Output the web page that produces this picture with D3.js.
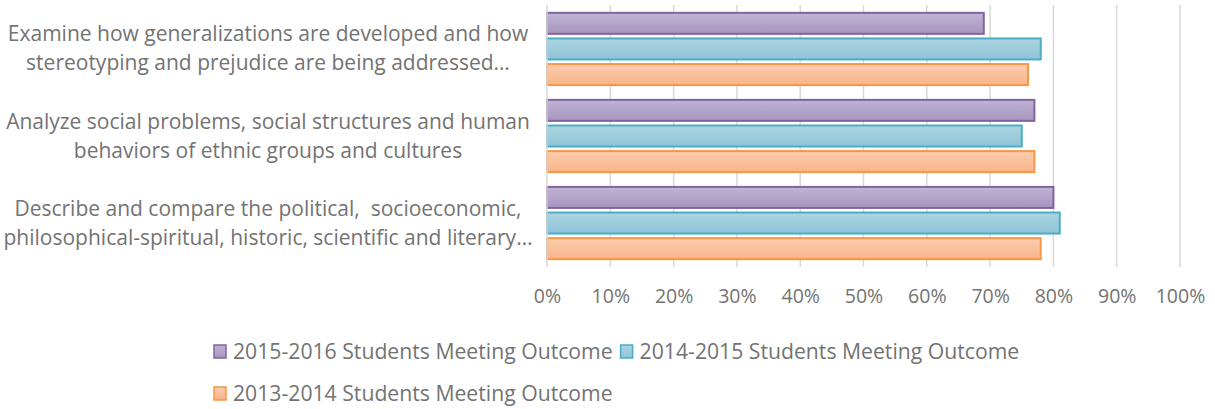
<!DOCTYPE html>
<html>
<head>
<meta charset="utf-8">
<script src="https://d3js.org/d3.v7.min.js"></script>
<style>
  body { margin: 0; background: #fff; }
  text { font-family: "Open Sans", sans-serif; fill: #737373; }
</style>
</head>
<body>
<div id="chart"></div>
<script>
var width = 1215,
    height = 409;

// outcomes, top to bottom
var categories = [
    ["Examine how generalizations are developed and how", "stereotyping and prejudice are being addressed\u2026"],
    ["Analyze social problems, social structures and human", "behaviors of ethnic groups and cultures"],
    ["Describe and compare the political,  socioeconomic,", "philosophical-spiritual, historic, scientific and literary\u2026"]
];
var seriesNames = [
    "2015-2016 Students Meeting Outcome",
    "2014-2015 Students Meeting Outcome",
    "2013-2014 Students Meeting Outcome"
];
var values2015 = [0.69, 0.77, 0.80];
var values2014 = [0.78, 0.75, 0.81];
var values2013 = [0.76, 0.77, 0.78];
var tickValues = [0, 0.1, 0.2, 0.3, 0.4, 0.5, 0.6, 0.7, 0.8, 0.9, 1];

var fills = [["#c0b4d4", "#a794be"], ["#acd5e2", "#8fc4d7"], ["#fccdae", "#f9b48a"]];
var strokes = ["#8064a2", "#4bacc6", "#f79646"];

var margin = { left: 547, right: 35, top: 5, bottom: 142 };

var svg = d3.select('#chart').append('svg')
    .attr('width', width)
    .attr('height', height);

var defs = svg.append('defs');
fills.forEach(function(f, i) {
    var g = defs.append('linearGradient')
        .attr('id', 'grad-' + i)
        .attr('x1', 0).attr('y1', 0).attr('x2', 0).attr('y2', 1);
    g.append('stop').attr('offset', '0%').attr('stop-color', f[0]);
    g.append('stop').attr('offset', '100%').attr('stop-color', f[1]);
});

var x = d3.scaleLinear()
    .domain([0, 1])
    .range([margin.left, width - margin.right]);

var y = d3.scaleBand()
    .domain(d3.range(categories.length))
    .range([margin.top, height - margin.bottom])
    .paddingInner(0.17)
    .paddingOuter(0.09);

var ySub = d3.scaleBand()
    .domain(d3.range(seriesNames.length))
    .range([0, y.bandwidth()])
    .paddingInner(0.18);

// gridlines
svg.append('g')
    .selectAll('line')
    .data(tickValues.slice(1))
    .enter()
    .append('line')
    .attr('x1', function(d) { return x(d); })
    .attr('x2', function(d) { return x(d); })
    .attr('y1', margin.top)
    .attr('y2', height - margin.bottom)
    .attr('stroke', '#d9d9d9')
    .attr('stroke-width', 1.5);

var allSeries = [values2015, values2014, values2013];

categories.forEach(function(cat, ci) {
    var g = svg.append('g')
        .attr('transform', 'translate(0,' + y(ci) + ')');
    g.selectAll('rect')
        .data(allSeries.map(function(s) { return s[ci]; }))
        .enter()
        .append('rect')
        .attr('x', x(0))
        .attr('y', function(d, i) { return ySub(i); })
        .attr('width', function(d) { return x(d) - x(0); })
        .attr('height', ySub.bandwidth())
        .attr('fill', function(d, i) { return 'url(#grad-' + i + ')'; })
        .attr('stroke', function(d, i) { return strokes[i]; })
        .attr('stroke-width', 2);
});

// vertical axis line
svg.append('line')
    .attr('x1', x(0)).attr('x2', x(0))
    .attr('y1', margin.top).attr('y2', height - margin.bottom)
    .attr('stroke', '#d9d9d9')
    .attr('stroke-width', 1.5);

// x tick labels
var xAxis = d3.axisBottom(x)
    .tickValues(tickValues)
    .tickFormat(d3.format('.0%'))
    .tickSize(0)
    .tickPadding(22);

var axisG = svg.append('g')
    .attr('transform', 'translate(0,' + (height - margin.bottom) + ')')
    .call(xAxis);
axisG.select('.domain').remove();
axisG.selectAll('text')
    .style('font-family', '"Open Sans", sans-serif')
    .style('font-size', '19.5px')
    .attr('fill', '#737373');

// category labels
categories.forEach(function(lines, ci) {
    var cy = y(ci) + y.bandwidth() / 2;
    var t = svg.append('text')
        .attr('text-anchor', 'middle')
        .style('font-size', '21px')
        .style('white-space', 'pre');
    lines.forEach(function(line, li) {
        t.append('tspan')
            .attr('x', 268)
            .attr('y', cy + (li - 0.5) * 29 + 7)
            .text(line);
    });
});

// legend
var legendRows = [[0, 1], [2]];
legendRows.forEach(function(row, ri) {
    var lx = 214;
    var ly = 351 + ri * 42;
    row.forEach(function(si) {
        svg.append('rect')
            .attr('x', lx)
            .attr('y', ly - 6)
            .attr('width', 12)
            .attr('height', 13)
            .attr('fill', 'url(#grad-' + si + ')')
            .attr('stroke', strokes[si])
            .attr('stroke-width', 1.5);
        var t = svg.append('text')
            .attr('x', lx + 19)
            .attr('y', ly + 8)
            .style('font-size', '21.2px')
            .text(seriesNames[si]);
        lx += 19 + t.node().getComputedTextLength() + 8;
    });
});
</script>
</body>
</html>
